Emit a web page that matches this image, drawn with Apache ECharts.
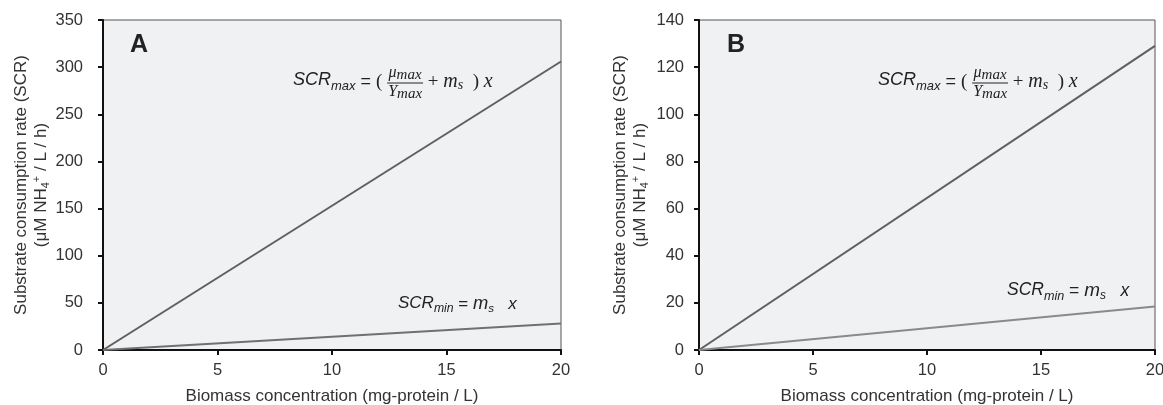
<!DOCTYPE html>
<html><head><meta charset="utf-8">
<script src="https://cdn.jsdelivr.net/npm/echarts@6/dist/echarts.min.js"></script>
<style>html,body{margin:0;padding:0;background:#fff}#c{width:1163px;height:405px}</style>
</head><body><div id="c"></div>
<script>
// ---- data ----
const xRange = [0, 20];
const xTicks = [0, 5, 10, 15, 20];
const yTicksA = [0, 50, 100, 150, 200, 250, 300, 350];
const yTicksB = [0, 20, 40, 60, 80, 100, 120, 140];
const biomassX = [0, 20];
const scrMaxA = [0, 306];
const scrMinA = [0, 28];
const scrMaxB = [0, 129];
const scrMinB = [0, 18.5];
const panelLabels = ['A', 'B'];
const xTitle = 'Biomass concentration (mg-protein / L)';
const yTitle = 'Substrate consumption rate (SCR)\n(μM NH{sub|4}{sup|+} / L / h)';

const SANS = 'Liberation Sans, Arial, Helvetica, sans-serif';
const SERIF = 'Liberation Serif, DejaVu Serif, serif';
const TXT = '#333';

const cv = document.createElement('canvas').getContext('2d');
function mw(t, size, fam, st) { cv.font = (st||'normal') + ' normal ' + size + 'px ' + fam; return cv.measureText(t).width; }
function tok(t, size, fam, st, dy) { return {t, size, fam, st: st || 'normal', dy: dy || 0}; }
function layoutRun(tokens, x0, y, els) {
  let x = x0;
  tokens.forEach(k => {
    const w = mw(k.t, k.size, k.fam, k.st);
    if (els) els.push({type: 'text', x: x, y: y + k.dy, silent: true,
      style: {text: k.t, fontSize: k.size, fontFamily: k.fam, fontStyle: k.st, fill: '#222', align: 'left', verticalAlign: 'middle'}});
    x += w;
  });
  return x - x0;
}
function formula(parts, x0, y) {
  const els = []; let x = x0;
  parts.forEach(p => {
    if (p.frac) {
      const wn = layoutRun(p.frac[0], 0, 0, null), wd = layoutRun(p.frac[1], 0, 0, null);
      const w = Math.max(wn, wd) + 2;
      layoutRun(p.frac[0], x + (w - wn) / 2, y - 9, els);
      layoutRun(p.frac[1], x + (w - wd) / 2, y + 10, els);
      els.push({type: 'line', silent: true, shape: {x1: x, y1: y + 1, x2: x + w, y2: y + 1}, style: {stroke: '#222', lineWidth: 1}});
      x += w;
    } else {
      x += layoutRun([p], x, y, els);
    }
  });
  return {type: 'group', children: els};
}
function maxFormula(x, y) {
  return formula([
    tok('SCR', 18, SANS, 'italic', -2), tok('max', 13, SANS, 'italic', 4), tok(' = ', 18, SANS), tok('( ', 19, SERIF),
    {frac: [[tok('μ', 16, SERIF, 'italic'), tok('max', 15, SERIF, 'italic', 2)], [tok('Y', 16, SERIF, 'italic'), tok('max', 15, SERIF, 'italic', 2)]]},
    tok(' + ', 19, SERIF), tok('m', 20, SERIF, 'italic'), tok('s', 14, SERIF, 'italic', 3), tok('  ) ', 19, SERIF), tok('x', 20, SERIF, 'italic')
  ], x, y);
}
function minFormula(x, y, s) {
  return formula([
    tok('SCR', s, SANS, 'italic', -1), tok('min', s * 0.72, SANS, 'italic', 5), tok(' = ', s, SANS),
    tok('m', s * 1.08, SANS, 'italic'), tok('s', s * 0.68, SANS, 'italic', 5), tok('   x', s, SANS, 'italic')
  ], x, y);
}

function pairs(xs, ys) { return xs.map((v, i) => [v, ys[i]]); }

const grids = [
  {left: 103, right: 602, top: 20, bottom: 55},
  {left: 699, right: 8, top: 20, bottom: 55}
];
function xAxis(gi) {
  return {type: 'value', gridIndex: gi, min: xRange[0], max: xRange[1], interval: xTicks[1] - xTicks[0],
    name: xTitle, nameLocation: 'middle', nameGap: 38, nameTextStyle: {fontSize: 17, color: TXT, fontFamily: SANS},
    axisLine: {lineStyle: {color: '#111', width: 2}}, axisTick: {show: true, length: 5, lineStyle: {color: '#111', width: 2}},
    axisLabel: {fontSize: 16.5, color: TXT, fontFamily: SANS, margin: 12, showMaxLabel: true, hideOverlap: false}, splitLine: {show: false}};
}
function yAxis(gi, ticks, gap, margin) {
  return {type: 'value', gridIndex: gi, min: ticks[0], max: ticks[ticks.length - 1], interval: ticks[1] - ticks[0],
    name: yTitle, nameLocation: 'middle', nameGap: gap, nameRotate: 90,
    nameTextStyle: {fontSize: 17, color: TXT, fontFamily: SANS, lineHeight: 20, align: 'center',
      rich: {sub: {fontSize: 11, color: TXT, fontFamily: SANS, verticalAlign: 'bottom', lineHeight: 20},
             sup: {fontSize: 11, color: TXT, fontFamily: SANS, verticalAlign: 'top', lineHeight: 20}}},
    axisLine: {show: true, lineStyle: {color: '#111', width: 2}}, axisTick: {show: true, length: 5, lineStyle: {color: '#111', width: 2}},
    axisLabel: {fontSize: 16.5, color: TXT, fontFamily: SANS, margin: margin}, splitLine: {show: false}};
}
function line(gi, ys, color) {
  return {type: 'line', xAxisIndex: gi, yAxisIndex: gi, data: pairs(biomassX, ys), symbol: 'none',
    lineStyle: {color: color, width: 2}, silent: true, animation: false};
}

const chart = echarts.init(document.getElementById('c'), null, {renderer: 'canvas'});
chart.setOption({
  animation: false,
  backgroundColor: '#fff',
  grid: grids.map(g => Object.assign({show: true, containLabel: false, outerBoundsMode: 'none', backgroundColor: '#f0f1f3', borderColor: '#555', borderWidth: 1}, g)),
  xAxis: [xAxis(0), xAxis(1)],
  yAxis: [yAxis(0, yTicksA, 49, 20), yAxis(1, yTicksB, 49, 15)],
  series: [line(0, scrMaxA, '#5f5f5f'), line(0, scrMinA, '#707070'), line(1, scrMaxB, '#5f5f5f'), line(1, scrMinB, '#8a8a8a')],
  graphic: [
    {type: 'text', x: 130, y: 45, silent: true, style: {text: panelLabels[0], fontSize: 25, fontWeight: 'bold', fontFamily: SANS, fill: '#222', verticalAlign: 'middle'}},
    {type: 'text', x: 727, y: 45, silent: true, style: {text: panelLabels[1], fontSize: 25, fontWeight: 'bold', fontFamily: SANS, fill: '#222', verticalAlign: 'middle'}},
    maxFormula(293, 82),
    minFormula(398, 304, 17),
    maxFormula(878, 82),
    minFormula(1007, 291, 17.5)
  ]
});
</script></body></html>
